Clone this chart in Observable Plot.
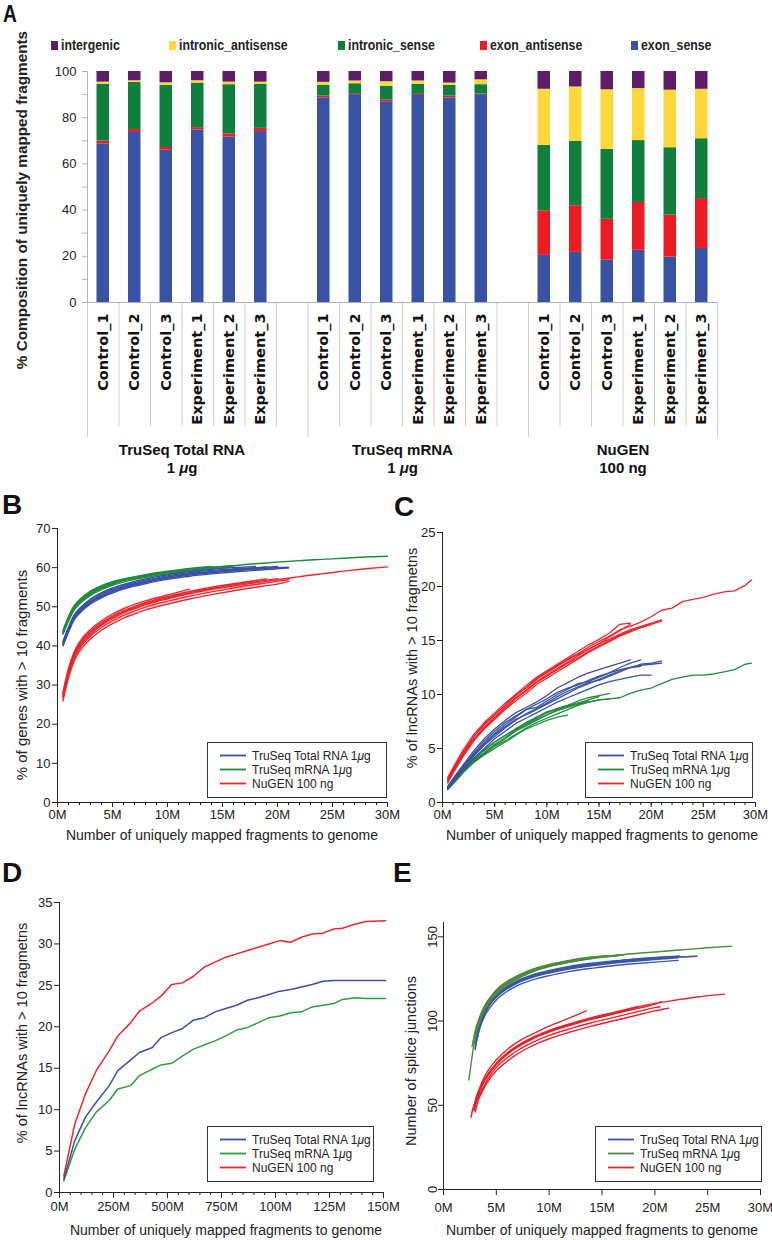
<!DOCTYPE html>
<html><head><meta charset="utf-8">
<script src="https://cdn.jsdelivr.net/npm/d3@7"></script>
<script src="https://cdn.jsdelivr.net/npm/@observablehq/plot@0.6"></script>
<style>
body{margin:0;background:#fff;}
#root{position:relative;width:772px;height:1240px;overflow:hidden;font-family:"Liberation Sans",Arial,sans-serif;color:#222;}
.letter{position:absolute;font-weight:bold;font-family:"Liberation Sans",Arial,sans-serif;font-size:28px;line-height:1;color:#111;}
.ytitle{position:absolute;white-space:nowrap;transform:translate(-50%,-50%) rotate(-90deg);line-height:1;}
.xtitle{position:absolute;white-space:nowrap;transform:translate(-50%,-50%);line-height:1;}
.legbox{position:absolute;border:1.5px solid #333;box-sizing:border-box;background:#fff;}
.legrow{position:absolute;white-space:nowrap;font-size:12px;line-height:12px;color:#222;}
.swsvg{position:absolute;left:0;top:0;overflow:visible;}
.lgA{position:absolute;font-weight:bold;font-size:15px;line-height:16px;white-space:nowrap;color:#222;transform:scaleX(0.82);transform-origin:0 50%;}
.sqA{position:absolute;width:7px;height:9px;}
</style></head><body><div id="root"></div>
<script>
// ================= DATA =================
// Panel A
const samples = ["Control_1","Control_2","Control_3","Experiment_1","Experiment_2","Experiment_3"];
const kitsA = ["TruSeq Total RNA\n1 μg","TruSeq mRNA\n1 μg","NuGEN\n100 ng"];
const stackOrder = ["exon_sense","exon_antisense","intronic_sense","intronic_antisense","intergenic"];
const legendOrderA = ["intergenic","intronic_antisense","intronic_sense","exon_antisense","exon_sense"];
const colorsA = ["#3953a4","#ec1c24","#0f7f3e","#fed73b","#5d1e68"];
const exonSense        = [68.7,73.6,65.9,74.7,71.6,74.0, 88.6,90.0,86.9,89.6,88.6,90.0, 20.4,21.7,18.3,22.6,19.7,23.4];
const exonAntisense    = [1.2,1.3,1.2,1.0,1.4,1.4, 0.8,0.4,0.8,0.5,0.8,0.3, 19.3,20.2,17.7,20.7,18.2,21.6];
const intronicSense    = [24.5,20.4,26.9,19.3,21.3,19.0, 4.6,4.3,5.9,4.3,4.6,4.0, 28.3,27.8,30.3,26.8,29.1,25.9];
const intronicAntisense= [1.0,0.7,1.1,1.0,1.1,1.0, 1.3,1.2,2.0,1.5,1.0,2.1, 24.3,23.6,25.8,22.5,24.9,21.4];
const intergenic       = [4.6,4.0,4.9,4.0,4.6,4.6, 4.7,4.1,4.4,4.1,5.0,3.6, 7.7,6.7,7.9,7.4,8.1,7.7];
const ticksA = [0,20,40,60,80,100];

// Curves: shared legend names
const kitNames = ["TruSeq Total RNA 1μg","TruSeq mRNA 1μg","NuGEN 100 ng"];
const xTicks = [0,5,10,15,20,25,30];

// Panel B
const xB = [0.5,1,1.5,2,3,4,5,6,7,8,9,10,12,14,16,18,19,20,21,22,24,26,28,30];
const bBlue = [
 [40.2,43.8,46.9,48.6,51.0,52.6,53.8,54.8,55.6,56.2,56.8,57.3,58.1,58.7,59.2,59.6,59.8,60.0,60.1],
 [40.6,44.2,47.3,49.0,51.4,53.0,54.2,55.1,55.9,56.5,57.1,57.6,58.4,59.0,59.5,59.9,60.1,60.3],
 [40.9,44.5,47.6,49.3,51.7,53.3,54.5,55.4,56.2,56.8,57.4,57.9,58.7,59.3,59.7,60.0,60.2],
 [40.0,43.5,46.6,48.3,50.7,52.3,53.5,54.5,55.3,55.9,56.5,57.0,57.8,58.4,58.9,59.3,59.5,59.7,59.9],
 [41.2,44.8,47.9,49.6,52.0,53.6,54.8,55.7,56.5,57.1,57.7,58.2,59.0,59.6,60.0,60.3],
 [40.4,44.0,47.1,48.8,51.2,52.8,54.0,55.0,55.8,56.4,57.0,57.5,58.3,58.9,59.3,59.7,59.9,60.1]
];
const bGreen = [
 [43.2,46.6,49.4,51.0,53.2,54.7,55.8,56.7,57.3,57.8,58.3,58.7,59.4,60.0,60.5,61.0,61.2,61.4,61.6,61.8,62.1,62.4,62.7,62.9],
 [44.0,47.5,50.2,51.8,54.0,55.4,56.4,57.0],
 [43.5,47.0,49.8,51.4,53.6,55.0,56.1,56.9,57.5,58.0,58.5,58.9,59.6,60.1,60.5],
 [43.8,47.2,50.0,51.6,53.8,55.2,56.3,57.1,57.7,58.2,58.7,59.1,59.8,60.3],
 [43.0,46.3,49.1,50.7,52.9,54.4,55.5,56.3,57.0,57.5,58.0,58.4,59.1,59.7,60.2],
 [43.3,46.8,49.6,51.2,53.4,54.9,56.0,56.8,57.4,57.9,58.4,58.8,59.5]
];
const bRed = [
 [27.0,33.0,37.2,39.8,43.0,45.3,47.0,48.4,49.5,50.5,51.3,52.0,53.3,54.4,55.3,56.1,56.5,56.9,57.3,57.7,58.4,59.1,59.7,60.2],
 [28.2,34.3,38.4,41.0,44.2,46.4,48.1,49.5,50.6,51.5,52.3,53.0,54.5],
 [26.0,31.8,36.0,38.6,41.8,44.0,45.7,47.1,48.2,49.2,50.0,50.7,52.0,53.1,54.1,55.0,55.4,55.8,56.5],
 [27.5,33.5,37.6,40.2,43.4,45.6,47.3,48.7,49.8,50.8,51.6,52.3,53.6,54.7,55.6,56.4,56.8,57.2],
 [26.8,32.6,36.7,39.3,42.5,44.7,46.4,47.8,48.9,49.9,50.7,51.4,52.7,53.8,54.8,55.7,56.1,56.5,56.9],
 [27.8,33.8,37.9,40.5,43.7,45.9,47.6,49.0,50.1,51.1,51.9,52.6,53.9,55.0,55.9,56.7,57.1]
];
const yTicksB = [0,10,20,30,40,50,60,70];

// Panel C
const xC = [0.5,1,2,3,4,5,6,7,8,9,10,11,12,13,14,15,16,17,18,19,20,21,22,23,24,25,26,27,28,29,29.6];
const cRed = [
 [2.0,3.0,4.6,6.0,7.3,8.1,9.0,9.9,10.6,11.5,12.1,12.7,13.3,13.8,14.4,14.9,15.4,16.0,16.3,16.7,17.2,17.8,18.0,18.6,18.8,19.0,19.3,19.5,19.6,20.1,20.6],
 [2.3,3.2,4.9,6.3,7.4,8.3,9.2,10.0,10.8,11.6,12.2,12.8,13.4,14.0,14.6,15.1,15.7,16.5,16.6],
 [1.9,2.8,4.4,5.8,7.0,7.9,8.8,9.7,10.4,11.2,11.8,12.4,13.0,13.6,14.2,14.7,15.3,15.9,16.5],
 [2.1,3.0,4.5,5.8,6.9,7.8,8.7,9.6,10.3,11.1,11.7,12.3,12.9,13.4,14.0,14.5,15.0,15.5,15.9,16.2,16.5,16.8],
 [2.2,3.1,4.7,6.1,7.2,8.1,9.0,9.9,10.6,11.4,12.0,12.6,13.2,13.7,14.2,14.7,15.1,15.6,16.0,16.3,16.6,16.9],
 [1.8,2.7,4.3,5.7,6.8,7.7,8.6,9.4,10.1,10.9,11.5,12.1,12.7,13.3,13.9,14.4,14.9,15.4,15.8,16.2,16.5]
];
const cBlue = [
 [1.5,2.2,3.5,4.8,5.9,6.8,7.6,8.3,8.8,9.3,9.9,10.6,11.1,11.6,12.0,12.3,12.6,12.9,13.2],
 [1.4,2.0,3.3,4.5,5.5,6.4,7.2,7.9,8.6,8.8,9.4,10.0,10.5,11.0,11.2,11.6,12.0,12.5,12.9,13.2],
 [1.3,1.9,3.1,4.3,5.3,6.1,6.9,7.6,8.2,8.7,9.2,9.8,10.3,10.7,11.1,11.3,11.7,12.1,12.5,12.8,12.9,13.1],
 [1.4,2.0,3.2,4.4,5.4,6.3,7.0,7.7,8.1,8.6,9.1,9.6,10.1,10.6,11.0,11.4,11.8,12.2,12.5,12.7,12.8,12.9],
 [1.3,1.9,3.0,4.1,5.0,5.9,6.6,7.3,7.8,8.3,8.8,9.3,9.7,10.1,10.5,10.9,11.2,11.4,11.6,11.8,11.8],
 [1.5,2.1,3.4,4.6,5.7,6.6,7.4,8.0,8.6,9.1,9.6,10.2,10.6,10.9,11.3,11.7,12.0,12.3,12.5,12.6]
];
const cGreen = [
 [1.3,1.8,2.9,3.8,4.5,5.3,5.9,6.6,7.1,7.6,8.1,8.5,8.8,9.1,9.3,9.5,9.6,9.7,10.1,10.4,10.6,11.0,11.4,11.6,11.8,11.8,11.9,12.1,12.3,12.8,12.9],
 [1.2,1.7,2.8,3.7,4.4,5.0,5.6,6.2,6.8,7.2,7.6,7.9,8.1],
 [1.3,1.9,3.0,4.0,4.8,5.6,6.2,6.8,7.3,7.8,8.3,8.7,9.0,9.4,9.7,9.9,10.1],
 [1.2,1.7,2.8,3.8,4.5,5.2,5.7,6.3,6.9,7.4,7.8,8.2,8.6,9.0,9.3,9.5,9.6],
 [1.4,1.9,3.0,4.1,4.9,5.6,6.2,6.8,7.4,7.9,8.4,8.7,9.0,9.2,9.4],
 [1.3,1.8,2.9,3.9,4.6,5.4,6.0,6.7,7.2,7.7,8.1,8.6,8.9,9.2,9.5,9.8]
];
const yTicksC = [0,5,10,15,20,25];

// Panel D
const xD = [2,7,12,17,23,27,33,37,43,47,52,57,62,67,72,77,82,87,92,97,102,107,112,117,122,127,131,137,142,151];
const dBlue  = [1.6,6.2,9.1,10.9,12.9,14.7,16.0,16.9,17.5,18.7,19.3,19.8,20.8,21.1,21.8,22.2,22.6,23.2,23.5,23.9,24.3,24.5,24.8,25.1,25.5,25.6,25.6,25.6,25.6,25.6];
const dGreen = [1.4,5.2,7.8,9.7,11.1,12.5,12.9,14.1,14.9,15.4,15.6,16.5,17.3,17.8,18.3,18.9,19.6,19.9,20.5,21.1,21.3,21.7,21.8,22.4,22.6,22.8,23.3,23.5,23.4,23.4];
const dRed   = [2.0,8.2,11.9,14.7,17.1,18.9,20.5,21.9,22.9,23.7,25.1,25.3,26.1,27.2,27.8,28.4,28.8,29.2,29.6,30.0,30.4,30.2,30.8,31.2,31.3,31.8,31.9,32.4,32.7,32.8];
const dTickValues = [0,25,50,75,100,125,150];
const dTickLabels = ["0M","250M","500M","750M","100M","125M","150M"];
const yTicksD = [0,5,10,15,20,25,30,35];

// Panel E  ([M fragments, junctions] pairs)
const eGreen = [
 [[2.4,65],[2.6,74],[2.8,83],[3.0,90],[3.3,97],[3.7,104],[4.2,110],[5,116],[6,121.5],[7,125],[8,128],[9,130.5],[10,132.3],[12,135],[14,137],[16,138.8],[19,140.5],[22,142],[25,143.5],[27.3,144.5]],
 [[2.8,88],[3.0,94],[3.3,100],[3.7,106],[4.2,112],[5,118],[6,123],[7,126.5],[8,129.3],[9,131.5],[10,133.2],[12,135.8],[14,137.6],[16.6,139]],
 [[2.9,90],[3.1,96],[3.4,102],[3.8,108],[4.3,113],[5,118.5],[6,123.5],[7,127],[8,129.8],[9,132],[10,133.6],[12,136.2],[14,138],[15.5,139]],
 [[2.7,85],[3.0,92],[3.3,98],[3.7,104.5],[4.2,110.5],[5,116.5],[6,121.8],[7,125.5],[8,128.3],[9,130.7],[10,132.5],[12,135.2],[14,137.3],[16.5,138.6]],
 [[2.8,87],[3.0,93],[3.4,100.5],[3.8,106.5],[4.3,111.5],[5,117.2],[6,122.3],[7,126],[8,128.8],[9,131.1],[10,132.9],[12,135.5],[13.5,137]],
 [[2.9,89],[3.2,97],[3.5,102.5],[4,109],[4.5,113],[5,117.8],[6,122.8],[7,126.3],[8,129.1],[9,131.3],[10,133.1],[12,135.7],[14,137.6],[16,138.8],[17,139.2]]
];
const eBlue = [
 [[3.0,83],[3.1,88],[3.4,96],[3.8,103],[4.3,109],[5,114],[6,119],[7,122.5],[8,125],[9,127],[10,128.5],[12,131],[14,132.8],[16,134.3],[18,135.5],[20,136.5],[22.2,137.5]],
 [[3.0,86],[3.2,92],[3.5,99],[3.9,105],[4.4,110.5],[5,115],[6,120],[7,123.5],[8,126],[9,128],[10,129.5],[12,132],[14,133.8],[16,135.3],[18,136.5],[20,137.5],[22.3,138.7]],
 [[3.1,87],[3.3,93],[3.6,100],[4,106],[4.5,111],[5,114.5],[6,119.5],[7,123],[8,125.5],[9,127.5],[10,129],[12,131.5],[14,133.3],[16,134.8],[18,136],[20,137],[22,138],[23.9,138.4]],
 [[3.0,84],[3.2,90],[3.5,97],[3.9,103],[4.4,108],[5,112.5],[6,117.5],[7,121],[8,123.5],[9,125.5],[10,127],[12,129.5],[14,131.3],[16,132.8],[18,134],[20,135],[22.2,136]],
 [[3.1,89],[3.3,95],[3.6,101],[4,107],[4.5,112],[5,115.5],[6,120.5],[7,124],[8,126.5],[9,128.5],[10,130],[12,132.5],[14,134.3],[16,135.7],[18,136.8],[20,137.8],[21.5,138.3]],
 [[3.2,90],[3.4,96],[3.7,102],[4.1,107.5],[4.6,112],[5,114.8],[6,119.8],[7,123.3],[8,125.8],[9,127.8],[10,129.3],[12,131.8],[14,133.6],[16,135],[18,136.2],[20,137.2],[22,138],[24,138.5]]
];
const eRed = [
 [[2.6,43],[2.8,48],[3.0,52],[3.3,57],[3.7,63],[4.2,68.5],[5,75],[6,81],[7,85.5],[8,89],[9,92],[10,94.5],[12,98.5],[14,102],[16,105],[18,108],[20,110.5],[22,112.5],[24,114.3],[26.6,116]],
 [[2.9,50],[3.1,55],[3.4,60],[3.8,66],[4.3,71.5],[5,77],[6,83],[7,87.5],[8,91],[9,94],[10,97],[12,102],[13.5,106]],
 [[2.7,46],[3.0,51],[3.3,56],[3.7,62],[4.2,67.5],[5,74],[6,80],[7,84.5],[8,88],[9,91],[10,93.5],[12,97.5],[14,101],[16,104],[18,107],[20,110],[20.6,111.5]],
 [[3.0,46],[3.2,51],[3.5,56],[3.9,61],[4.4,66],[5,70.5],[6,76],[7,80.5],[8,84],[9,87],[10,89.5],[12,93.5],[14,97],[16,100],[18,103],[20,106],[21.3,107.6]],
 [[2.8,48],[3.0,52],[3.3,57],[3.7,62.5],[4.2,68],[5,74.5],[6,80.5],[7,85],[8,88.5],[9,91.5],[10,94],[12,98],[14,101.5],[16,104.5],[18.4,108.5]],
 [[2.9,47],[3.1,51.5],[3.4,56],[3.8,61],[4.3,66.5],[5,72.5],[6,78],[7,82.5],[8,86],[9,89],[10,91.5],[12,95.5],[14,99],[16,102],[18,105],[20,108],[20.5,108.5]]
];
const yTicksE = [0,50,100,150];

// ================= RENDER =================
const root = document.getElementById("root");
const fontSans = "Liberation Sans, Arial, Helvetica, sans-serif";
const baseStyle = {fontFamily: fontSans, fontSize: "13px", color: "#222", background: "transparent", overflow: "visible"};
const SVGNS = "http://www.w3.org/2000/svg";

function put(el, left, top) {
  el.style.position = "absolute"; el.style.left = left + "px"; el.style.top = top + "px";
  root.appendChild(el); return el;
}
function div(cls, html, left, top, extra) {
  const d = document.createElement("div"); d.className = cls; d.innerHTML = html;
  if (extra) Object.assign(d.style, extra);
  return put(d, left, top);
}
function italicMu(svg) {
  svg.querySelectorAll("text, tspan").forEach(el => {
    if (el.children.length === 0 && el.textContent.includes("μ")) {
      const parts = el.textContent.split("μ"); el.textContent = "";
      parts.forEach((p, i) => {
        if (i > 0) { const t = document.createElementNS(SVGNS, "tspan"); t.setAttribute("font-style", "italic"); t.textContent = "μ"; el.appendChild(t); }
        el.appendChild(document.createTextNode(p));
      });
    }
  });
}

// ---- Panel A ----
const valuesA = {exon_sense: exonSense, exon_antisense: exonAntisense, intronic_sense: intronicSense, intronic_antisense: intronicAntisense, intergenic: intergenic};
const rowsA = [], labelRowsA = [];
kitsA.forEach((kit, k) => samples.forEach((s, i) => {
  labelRowsA.push({slot: k * 7 + i, sample: s});
  stackOrder.forEach(c => rowsA.push({slot: k * 7 + i, cat: c, value: valuesA[c][k * 6 + i]}));
}));
const kitRowsA = kitsA.map((kit, k) => ({center: k * 7 + 3, label: kit}));
const shortSeps = [1,2,3,4,5,6,8,9,10,11,12,13,15,16,17,18,19];
const longSeps = [0,7,14,20];

const plotA = Plot.plot({
  width: 772, height: 480, marginLeft: 87, marginRight: 55, marginTop: 71, marginBottom: 178,
  style: baseStyle,
  x: {domain: [0, 20], axis: null},
  y: {domain: [0, 100], label: null},
  color: {domain: stackOrder, range: colorsA},
  marks: [
    Plot.ruleX(shortSeps, {x: d => d, y1: 0, y2: -53.7, stroke: "#cdcdcd"}),
    Plot.ruleX(longSeps, {x: d => d, y1: 0, y2: -58.5, stroke: "#cdcdcd"}),
    Plot.rectY(rowsA, {x: "slot", interval: 1, y: "value", fill: "cat", order: stackOrder, insetLeft: 9.5, insetRight: 9.5}),
    Plot.ruleY([0], {x1: 0, x2: 20, stroke: "#b3b3b3"}),
    Plot.ruleX([0], {y1: 0, y2: 100, stroke: "#b3b3b3"}),
    Plot.axisY({ticks: d3.range(0, 101, 10), tickSize: 5, stroke: "#b3b3b3", tickFormat: () => "", label: null}),
    Plot.axisY({ticks: ticksA, tickSize: 0, tickPadding: 11, fontSize: 13, fill: "#222", label: null}),
    Plot.text(labelRowsA, {x: d => d.slot + 0.5, text: "sample", frameAnchor: "bottom", lineAnchor: "middle", rotate: -90, textAnchor: "end", dy: 11,
      fontFamily: "DejaVu Sans, Verdana, sans-serif", fontWeight: "bold", fontSize: 14.5, fill: "#111"}),
    Plot.text(kitRowsA, {x: "center", text: "label", frameAnchor: "bottom", lineAnchor: "middle", dy: 155.5, lineHeight: 1.25,
      fontFamily: fontSans, fontWeight: "bold", fontSize: 15, fill: "#111"})
  ]
});
italicMu(plotA);
put(plotA, 0, 0);

// legend A
const legendXA = [51, 169, 338, 480, 631];
legendOrderA.forEach((c, i) => {
  const sq = document.createElement("div"); sq.className = "sqA"; sq.style.background = colorsA[stackOrder.indexOf(c)];
  put(sq, legendXA[i], 41);
  div("lgA", c, legendXA[i] + 10, 37);
});

// ---- Curve panels ----
function gridRows(xs, lines, kit, tag) {
  const out = [];
  lines.forEach((ys, i) => ys.forEach((y, j) => out.push({x: xs[j], y, kit, id: tag + i})));
  return out;
}
function pairRows(lines, kit, tag) {
  const out = [];
  lines.forEach((pts, i) => pts.forEach(p => out.push({x: p[0], y: p[1], kit, id: tag + i})));
  return out;
}
function curvePlot(o) {
  const marks = [];
  if (o.xMinor) marks.push(Plot.axisX({ticks: o.xMinor, tickSize: 3, tickFormat: () => "", label: null}));
  marks.push(Plot.axisX({ticks: o.xMajor, tickSize: o.xTickSize || 5, tickPadding: o.xTickPad, tickFormat: o.xFormat, fontSize: 13, label: null}));
  marks.push(Plot.axisY({ticks: o.yMajor, tickSize: 5, tickPadding: 2, tickRotate: o.yRotate || 0, fontSize: 13, label: null}));
  marks.push(Plot.ruleX([o.xDomain[0]], {y1: o.yDomain[0], y2: o.yDomain[1], stroke: "#222"}));
  marks.push(Plot.ruleY([o.yDomain[0]], {x1: o.xDomain[0], x2: o.xDomain[1], stroke: "#222"}));
  marks.push(Plot.line(o.rows, {x: "x", y: "y", z: "id", stroke: "kit", curve: o.curve, strokeWidth: o.sw}));
  return Plot.plot({
    width: o.width, height: o.height, marginLeft: o.ml, marginRight: o.mr, marginTop: o.mt, marginBottom: o.mb,
    style: baseStyle,
    x: {domain: o.xDomain, label: null},
    y: {domain: o.yDomain, label: null},
    color: {domain: kitNames, range: o.colors},
    marks
  });
}
function lineLegend(left, top, width, colors) {
  const box = document.createElement("div"); box.className = "legbox";
  box.style.width = width + "px"; box.style.height = "56px";
  const svg = document.createElementNS(SVGNS, "svg");
  svg.setAttribute("class", "swsvg"); svg.setAttribute("width", "50"); svg.setAttribute("height", "53");
  box.appendChild(svg);
  kitNames.forEach((name, i) => {
    const y = 12.5 + 14 * i;
    const ln = document.createElementNS(SVGNS, "line");
    ln.setAttribute("x1", 12); ln.setAttribute("x2", 38); ln.setAttribute("y1", y); ln.setAttribute("y2", y);
    ln.setAttribute("stroke", colors[i]); ln.setAttribute("stroke-width", 1.8);
    svg.appendChild(ln);
    const tx = document.createElement("div"); tx.className = "legrow";
    Object.assign(tx.style, {left: "44px", top: (y - 6) + "px"});
    tx.innerHTML = name.replace("μ", "<i>μ</i>");
    box.append(tx);
  });
  put(box, left, top);
}
const fmtM = d => d + "M";
const colBCD = ["#3a50a2", "#1e8c3c", "#e8262c"];
const colD = ["#3a50a2", "#2aa03b", "#e8262c"];
const colE = ["#3b56a6", "#4d8b3d", "#e5222a"];

// Panel B
const plotB = curvePlot({
  rows: [...gridRows(xB, bGreen, kitNames[1], "g"), ...gridRows(xB, bBlue, kitNames[0], "b"), ...gridRows(xB, bRed, kitNames[2], "r")],
  width: 395, height: 310, ml: 57, mr: 8, mt: 13, mb: 23,
  xDomain: [0, 30], yDomain: [0, 70], xMajor: xTicks, xMinor: d3.range(0, 31, 1), xFormat: fmtM, xTickPad: 2,
  yMajor: yTicksB, colors: colBCD, curve: "monotone-x", sw: 1.4
});
put(plotB, 0, 515);
lineLegend(207, 742, 180, colBCD);

// Panel C
const plotC = curvePlot({
  rows: [...gridRows(xC, cGreen, kitNames[1], "g"), ...gridRows(xC, cBlue, kitNames[0], "b"), ...gridRows(xC, cRed, kitNames[2], "r")],
  width: 377, height: 310, ml: 47, mr: 17, mt: 17, mb: 23,
  xDomain: [0, 30], yDomain: [0, 25], xMajor: xTicks, xMinor: d3.range(0, 31, 1), xFormat: fmtM, xTickPad: 2,
  yMajor: yTicksC, colors: colBCD, curve: "linear", sw: 1.3
});
put(plotC, 395, 515);
lineLegend(585, 742, 168, colBCD);

// Panel D
const plotD = curvePlot({
  rows: [...gridRows(xD, [dGreen], kitNames[1], "g"), ...gridRows(xD, [dBlue], kitNames[0], "b"), ...gridRows(xD, [dRed], kitNames[2], "r")],
  width: 395, height: 330, ml: 59, mr: 12, mt: 12, mb: 28,
  xDomain: [0, 150], yDomain: [0, 35], xMajor: dTickValues, xMinor: d3.range(0, 151, 5),
  xFormat: d => dTickLabels[dTickValues.indexOf(d)], xTickPad: 3, xTickSize: 6,
  yMajor: yTicksD, colors: colD, curve: "linear", sw: 1.5
});
put(plotD, 0, 890);
lineLegend(207, 1126, 167, colD);

// Panel E
const plotE = curvePlot({
  rows: [...pairRows(eBlue, kitNames[0], "b"), ...pairRows(eGreen, kitNames[1], "g"), ...pairRows(eRed, kitNames[2], "r")],
  width: 377, height: 315, ml: 48, mr: 12, mt: 17, mb: 31,
  xDomain: [0, 30], yDomain: [0, 158.5], xMajor: xTicks, xMinor: null, xFormat: fmtM, xTickPad: 7, xTickSize: 6,
  yMajor: yTicksE, yRotate: -90, colors: colE, curve: "monotone-x", sw: 1.4
});
put(plotE, 395, 905);
lineLegend(595, 1126, 167, colE);

// ---- Letters and axis titles ----
div("letter", "A", 3, 2, {fontSize: "24px", transform: "scaleX(0.8)", transformOrigin: "0 0"});
div("letter", "B", 2, 491);
div("letter", "C", 394, 493);
div("letter", "D", 2, 859);
div("letter", "E", 393, 859);

div("ytitle", "% Composition of uniquely mapped fragments", 22, 200, {fontSize: "15.3px", fontWeight: "bold"});
const xTitle = "Number of uniquely mapped fragments to genome";
div("ytitle", "% of genes with &gt; 10 fragments", 21, 675, {fontSize: "15px"});
div("xtitle", xTitle, 222, 835, {fontSize: "14px"});
div("ytitle", "% of lncRNAs with &gt; 10 fragmetns", 412, 658, {fontSize: "14.5px"});
div("xtitle", xTitle, 602, 835, {fontSize: "14px"});
div("ytitle", "% of lncRNAs with &gt; 10 fragmetns", 22, 1033, {fontSize: "14.5px"});
div("xtitle", xTitle, 226, 1230, {fontSize: "14px"});
div("ytitle", "Number of splice junctions", 411, 1061, {fontSize: "14.5px"});
div("xtitle", xTitle, 602, 1230, {fontSize: "14px"});
</script></body></html>
